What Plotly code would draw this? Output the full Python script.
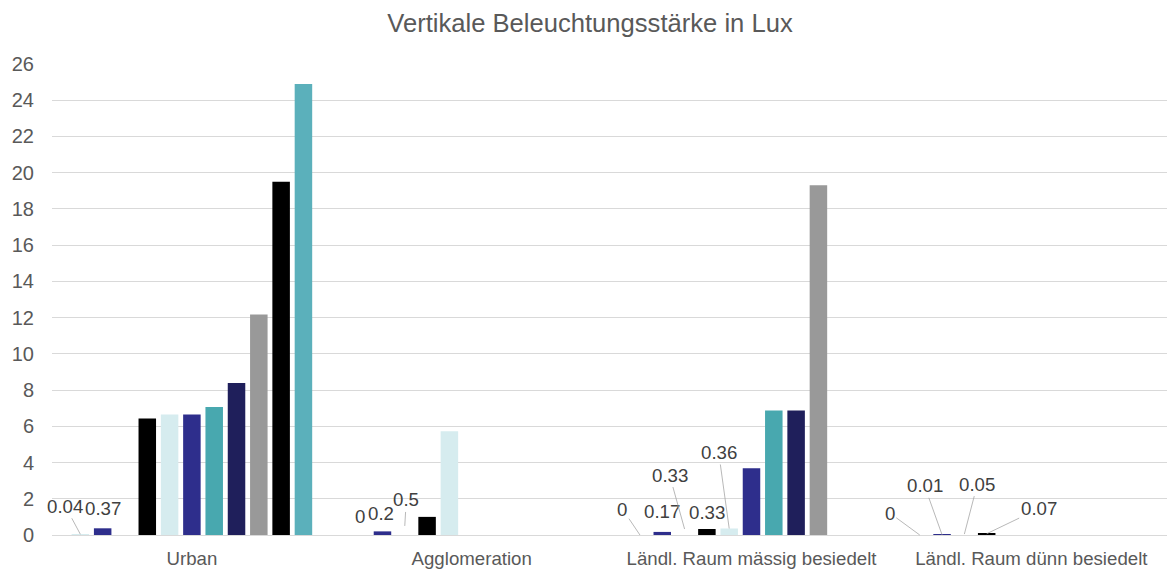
import plotly.graph_objects as go

categories = ["Urban", "Agglomeration", "Ländl. Raum mässig besiedelt", "Ländl. Raum dünn besiedelt"]

# eleven series (bar slots within each category group); None = no bar
s1 = [0.04, 0, 0, 0]
s2 = [0.37, 0.2, 0.17, 0.01]
s3 = [None, 0.5, 0.33, 0.05]
s4 = [6.43, 1.0, 0.33, 0.07]
s5 = [6.65, 5.73, 0.36, None]
s6 = [6.65, None, 3.68, None]
s7 = [7.07, None, 6.87, None]
s8 = [8.39, None, 6.87, None]
s9 = [12.17, None, 19.31, None]
s10 = [19.5, None, None, None]
s11 = [24.9, None, None, None]
series = [s1, s2, s3, s4, s5, s6, s7, s8, s9, s10, s11]

colors = ["#D6ECEF", "#2E2E8C", "rgba(0,0,0,0)", "#000000", "#D6ECEF", "#2E2E8C",
          "#48A8AF", "#1F1F5B", "#999999", "#000000", "#5BB0BB"]

y_ticks = list(range(0, 27, 2))

# data labels: (series index, category index, text)
labels = [
    (0, 0, "0.04"), (1, 0, "0.37"),
    (0, 1, "0"), (1, 1, "0.2"), (2, 1, "0.5"),
    (0, 2, "0"), (1, 2, "0.17"), (2, 2, "0.33"), (3, 2, "0.33"), (4, 2, "0.36"),
    (0, 3, "0"), (1, 3, "0.01"), (2, 3, "0.05"), (3, 3, "0.07"),
]
# label placement: (arrow?, dx px, dy px)
label_place = [
    (True, -15, -28), (False, 0, 20),
    (False, 0, 18.5), (False, -1, 17.5), (True, 1.5, -26),
    (True, -17.5, -26), (False, 0, 20), (True, -15, -54), (False, 0, 17), (True, -10.5, -76),
    (True, -30, -22), (True, -17.5, -49), (True, 13, -50), (True, 52, -25),
]

BARGAP = 0.123
n = len(series)

fig = go.Figure()
for i, (vals, col) in enumerate(zip(series, colors)):
    fig.add_trace(go.Bar(
        x=list(range(len(categories))), y=vals, name=f"S{i+1}",
        marker=dict(color=col, line=dict(width=0)),
        hoverinfo="skip",
    ))

FONT = "Liberation Sans, Arial, sans-serif"
LABEL_FONT = dict(family=FONT, size=18.67, color="#404040")
annotations = []
for (si, ci, txt), (arrow, dx, dy) in zip(labels, label_place):
    slot_w = (1 - BARGAP) / n
    xpos = ci - (1 - BARGAP) / 2 + (si + 0.5) * slot_w
    yval = series[si][ci]
    if arrow:
        annotations.append(dict(x=xpos, y=yval, xref="x", yref="y", text=txt,
                                showarrow=True, arrowhead=0, arrowwidth=0.8,
                                arrowcolor="#A6A6A6", ax=dx, ay=dy, standoff=0,
                                font=LABEL_FONT))
    else:
        annotations.append(dict(x=xpos, y=yval, xref="x", yref="y", text=txt,
                                showarrow=False, xshift=dx, yshift=dy,
                                yanchor="middle", font=LABEL_FONT))

fig.update_layout(
    width=1167, height=569,
    margin=dict(l=52, r=0, t=64, b=32),
    paper_bgcolor="white", plot_bgcolor="white",
    barmode="group", bargap=BARGAP, bargroupgap=0.215,
    showlegend=False,
    title=dict(text="Vertikale Beleuchtungsstärke in Lux",
               x=590 / 1167, xref="container", xanchor="center",
               y=1 - 23 / 569, yref="container", yanchor="middle",
               font=dict(family=FONT, size=25.6, color="#595959")),
    font=dict(family=FONT, color="#595959"),
    annotations=annotations,
)
fig.update_xaxes(
    range=[-0.5, 3.485], tickmode="array", tickvals=list(range(len(categories))),
    ticktext=categories, showgrid=False, zeroline=False,
    showline=True, linecolor="#D9D9D9", linewidth=1.3, ticks="",
    tickfont=dict(size=18.67, color="#595959"), ticklabelstandoff=6,
)
fig.update_yaxes(
    range=[0, 26], tickmode="array", tickvals=y_ticks,
    showgrid=True, gridcolor="#D9D9D9", gridwidth=1,
    zeroline=True, zerolinecolor="#D9D9D9", zerolinewidth=1,
    showline=False, ticks="",
    tickfont=dict(size=20, color="#595959"), ticklabelstandoff=17,
)

fig.write_html("out.html", config={"displayModeBar": False},
               post_script="document.body.style.margin='0';document.body.style.overflow='hidden';")
